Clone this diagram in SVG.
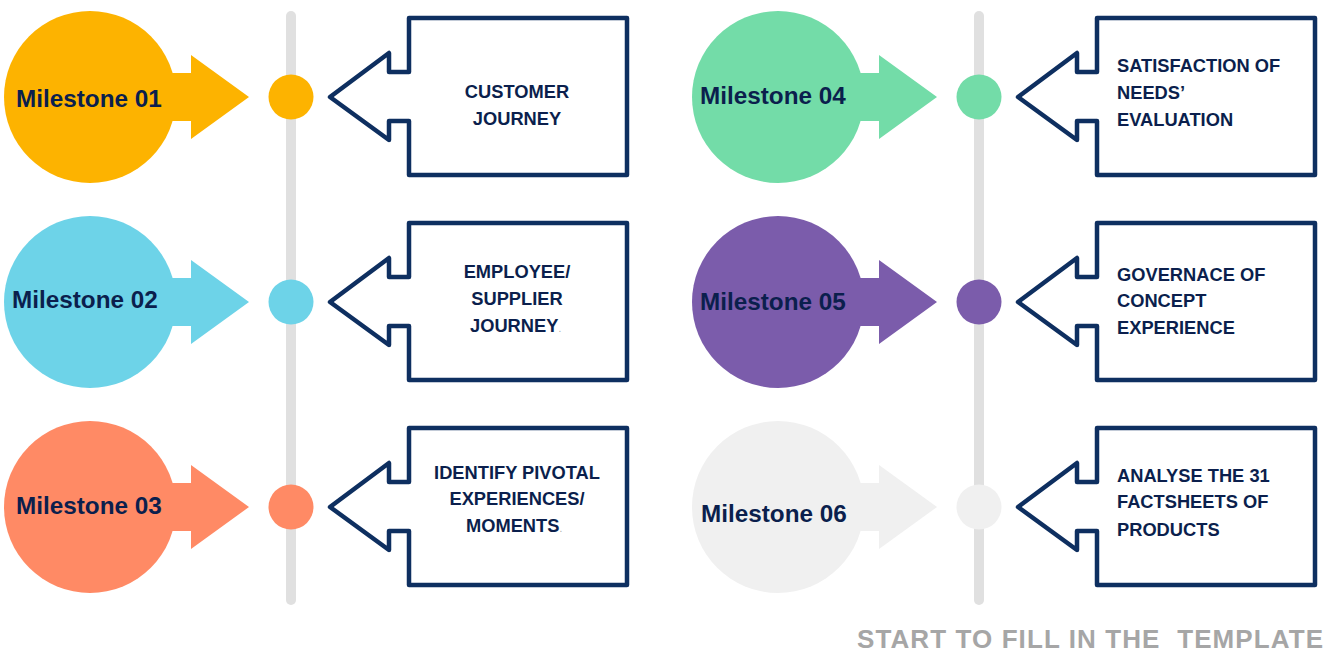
<svg xmlns="http://www.w3.org/2000/svg" width="1333" height="652" viewBox="0 0 1333 652">
<defs>
<style>
.ms{font-family:"Liberation Sans",Arial,sans-serif;font-weight:bold;font-size:24.3px;fill:#0b1f4d}
.ct{font-family:"Liberation Sans",Arial,sans-serif;font-weight:bold;font-size:18.3px;fill:#0b1f4d}
.ctm{text-anchor:middle}
.dot{font-size:10px;fill:#aaaaaa;font-weight:normal}
.callout{fill:#ffffff;stroke:#0e2f60;stroke-width:4.5;stroke-linejoin:round}
.rail{stroke:#e0e0e0;stroke-width:10;stroke-linecap:round;fill:none}
.foot{font-family:"Liberation Sans",Arial,sans-serif;font-weight:bold;font-size:26px;fill:#a6a6a6}
</style>
<g id="mshape">
<circle cx="90" cy="0" r="86"/>
<path d="M160,-24 H191 V-42 L249,0 L191,42 V24 H160 Z"/>
</g>
<path id="cshape" class="callout" d="M409,-79 H627 V78 H409 V24 H389 V43 L330,0 L389,-44 V-25 H409 Z"/>
</defs>
<g id="connectors">
<line class="rail" x1="291" y1="16" x2="291" y2="600"/>
<line class="rail" x1="979" y1="16" x2="979" y2="600"/>
</g>
<g id="milestone01">
<use href="#mshape" x="0" y="97" fill="#fdb300"/>
<circle cx="291" cy="97" r="22.5" fill="#fdb300"/>
<text class="ms" x="16" y="107">Milestone 01</text>
</g>
<g id="callout01">
<use href="#cshape" x="0" y="97"/>
<text class="ct ctm" x="517" y="98">CUSTOMER</text>
<text class="ct ctm" x="517" y="125">JOURNEY</text>
</g>
<g id="milestone02">
<use href="#mshape" x="0" y="302" fill="#6dd3e8"/>
<circle cx="291" cy="302" r="22.5" fill="#6dd3e8"/>
<text class="ms" x="12" y="308">Milestone 02</text>
</g>
<g id="callout02">
<use href="#cshape" x="0" y="302"/>
<text class="ct ctm" x="517" y="278">EMPLOYEE/</text>
<text class="ct ctm" x="517" y="305">SUPPLIER</text>
<text class="ct" x="470" y="332">JOURNEY<tspan class="dot">.</tspan></text>
</g>
<g id="milestone03">
<use href="#mshape" x="0" y="507" fill="#ff8a65"/>
<circle cx="291" cy="507" r="22.5" fill="#ff8a65"/>
<text class="ms" x="16" y="514">Milestone 03</text>
</g>
<g id="callout03">
<use href="#cshape" x="0" y="507"/>
<text class="ct ctm" x="517" y="479">IDENTIFY PIVOTAL</text>
<text class="ct ctm" x="517" y="505">EXPERIENCES/</text>
<text class="ct" x="466" y="532">MOMENTS<tspan class="dot">.</tspan></text>
</g>
<g id="milestone04">
<use href="#mshape" x="688" y="97" fill="#73dca8"/>
<circle cx="979" cy="97" r="22.5" fill="#73dca8"/>
<text class="ms" x="700" y="104">Milestone 04</text>
</g>
<g id="callout04">
<use href="#cshape" x="688" y="97"/>
<text class="ct" x="1117" y="72">SATISFACTION OF</text>
<text class="ct" x="1117" y="99">NEEDS’</text>
<text class="ct" x="1117" y="126">EVALUATION</text>
</g>
<g id="milestone05">
<use href="#mshape" x="688" y="302" fill="#7b5cab"/>
<circle cx="979" cy="302" r="22.5" fill="#7b5cab"/>
<text class="ms" x="700" y="310">Milestone 05</text>
</g>
<g id="callout05">
<use href="#cshape" x="688" y="302"/>
<text class="ct" x="1117" y="281">GOVERNACE OF</text>
<text class="ct" x="1117" y="307">CONCEPT</text>
<text class="ct" x="1117" y="334">EXPERIENCE</text>
</g>
<g id="milestone06">
<use href="#mshape" x="688" y="507" fill="#f0f0f0"/>
<circle cx="979" cy="507" r="22.5" fill="#f0f0f0"/>
<text class="ms" x="701" y="522">Milestone 06</text>
</g>
<g id="callout06">
<use href="#cshape" x="688" y="507"/>
<text class="ct" x="1117" y="482">ANALYSE THE 31</text>
<text class="ct" x="1117" y="508">FACTSHEETS OF</text>
<text class="ct" x="1117" y="536">PRODUCTS</text>
</g>
<text class="foot" x="857" y="648" textLength="466" lengthAdjust="spacing" xml:space="preserve">START TO FILL IN THE  TEMPLATE</text>
</svg>
